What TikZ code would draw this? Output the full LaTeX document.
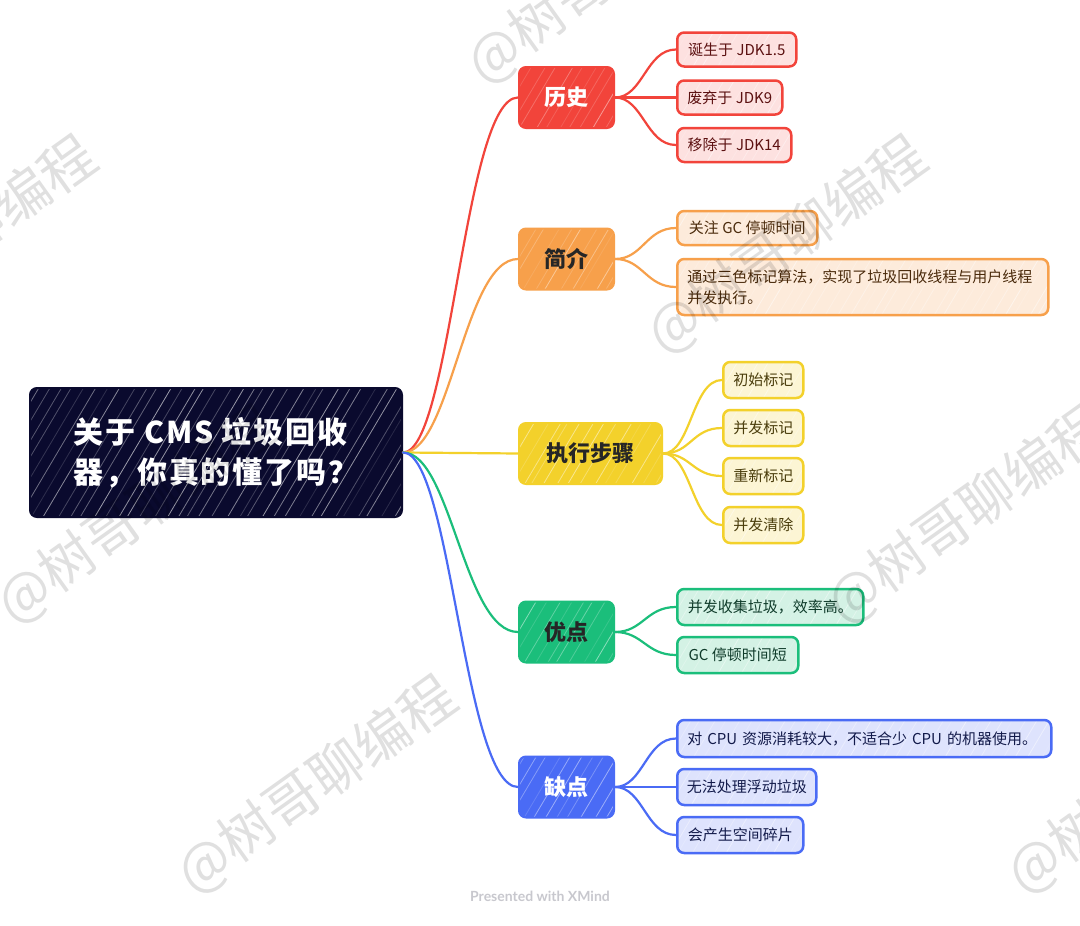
\documentclass[tikz,border=0pt]{standalone}
\usepackage{fontspec}
\setmainfont{Noto Sans CJK SC}
\newfontfamily\footfont{Lato}
\usetikzlibrary{calc}
\definecolor{cRoot}{HTML}{0A0A2E}
\definecolor{cRed}{HTML}{F2443B}
\definecolor{cRedL}{HTML}{FDE1E0}
\definecolor{cRedT}{HTML}{5C1111}
\definecolor{cOra}{HTML}{F7A04B}
\definecolor{cOraL}{HTML}{FDEBDB}
\definecolor{cOraT}{HTML}{4A2A0B}
\definecolor{cYel}{HTML}{F3D12B}
\definecolor{cYelL}{HTML}{FCF5D4}
\definecolor{cYelT}{HTML}{4A3D0C}
\definecolor{cGre}{HTML}{1BBE7B}
\definecolor{cGreL}{HTML}{D4F2E5}
\definecolor{cGreT}{HTML}{0F3B2A}
\definecolor{cBlu}{HTML}{4A6BF5}
\definecolor{cBluL}{HTML}{DEE3FD}
\definecolor{cBluT}{HTML}{121A4A}
\definecolor{cFoot}{HTML}{C8C8CE}
\pgfmathsetseed{7}
\tikzset{
  hatch/.style={path picture={\foreach \k in {-10,...,34}{\pgfmathsetmacro\op{#1*(0.2+0.8*rnd)}\pgfmathsetmacro\xs{\k*12+6*rnd}\draw[white,opacity=\op,line width=0.8pt] ([xshift=\xs pt]path picture bounding box.south west) -- ++(80pt,135pt);}}},
  rootbox/.style={fill=cRoot, draw=cRoot, line width=2pt, rounded corners=7pt, minimum width=372pt, minimum height=129pt, text=white, font=\fontsize{30}{40}\selectfont\bfseries\addfontfeature{LetterSpace=6}, align=left, hatch=0.6},
  branch/.style={rounded corners=7pt, minimum height=61pt, font=\fontsize{22}{26}\selectfont\bfseries, line width=2pt, hatch=0.5},
  leaf/.style={rounded corners=7pt, minimum height=34pt, line width=2.5pt, font=\fontsize{15}{21}\selectfont, anchor=west, align=left, hatch=0.5},
  link/.style={line width=2.2pt, line cap=round},
  wm/.style={rotate=35.5, text=black, text opacity=0.12, font=\fontsize{55}{55}\selectfont}
}
\begin{document}
\begin{tikzpicture}[x=1pt,y=-1pt]
\useasboundingbox (0,0) rectangle (1080,926);
\fill[white] (0,0) rectangle (1080,926);
% root
\node[rootbox] (root) at (216,452.5) {关于 CMS 垃圾回收\\器，你真的懂了吗？};
% branches
\node[branch, fill=cRed, draw=cRed, text=white, minimum width=95pt] (hist) at (566.5,97.5) {历史};
\node[branch, fill=cOra, draw=cOra, text=black!85, minimum width=95pt] (intro) at (566.5,259) {简介};
\node[branch, fill=cYel, draw=cYel, text=black!85, minimum width=143pt] (steps) at (590.5,453.5) {执行步骤};
\node[branch, fill=cGre, draw=cGre, text=black!85, minimum width=95pt] (pros) at (566.5,632) {优点};
\node[branch, fill=cBlu, draw=cBlu, text=white, minimum width=95pt] (cons) at (566.5,787) {缺点};
% leaves: history
\node[leaf, fill=cRedL, draw=cRed, text=cRedT, minimum width=119pt] (h1) at (676,49.5) {诞生于 JDK1.5};
\node[leaf, fill=cRedL, draw=cRed, text=cRedT, minimum width=105pt] (h2) at (676,97.5) {废弃于 JDK9};
\node[leaf, fill=cRedL, draw=cRed, text=cRedT, minimum width=114pt] (h3) at (676,145) {移除于 JDK14};
% leaves: intro
\node[leaf, fill=cOraL, draw=cOra, text=cOraT, minimum width=140pt] (i1) at (676,228) {关注 GC 停顿时间};
\node[leaf, fill=cOraL, draw=cOra, text=cOraT, text width=351pt, minimum height=56pt, inner xsep=10pt] (i2) at (676,287) {通过三色标记算法，实现了垃圾回收线程与用户线程\\并发执行。};
% leaves: steps
\node[leaf, fill=cYelL, draw=cYel, text=cYelT, minimum width=80pt, minimum height=36pt] (s1) at (722,380) {初始标记};
\node[leaf, fill=cYelL, draw=cYel, text=cYelT, minimum width=80pt, minimum height=36pt] (s2) at (722,428) {并发标记};
\node[leaf, fill=cYelL, draw=cYel, text=cYelT, minimum width=80pt, minimum height=36pt] (s3) at (722,476) {重新标记};
\node[leaf, fill=cYelL, draw=cYel, text=cYelT, minimum width=80pt, minimum height=36pt] (s4) at (722,525) {并发清除};
% leaves: pros
\node[leaf, fill=cGreL, draw=cGre, text=cGreT, minimum width=186pt, minimum height=36pt] (p1) at (676,607) {并发收集垃圾，效率高。};
\node[leaf, fill=cGreL, draw=cGre, text=cGreT, minimum width=121pt, minimum height=36pt] (p2) at (676,655) {GC 停顿时间短};
% leaves: cons
\node[leaf, fill=cBluL, draw=cBlu, text=cBluT, text width=354pt, inner xsep=10pt, minimum height=37pt] (c1) at (676,738.5) {对 CPU 资源消耗较大，不适合少 CPU 的机器使用。};
\node[leaf, fill=cBluL, draw=cBlu, text=cBluT, minimum width=139pt, minimum height=36pt] (c2) at (676,787) {无法处理浮动垃圾};
\node[leaf, fill=cBluL, draw=cBlu, text=cBluT, minimum width=126pt, minimum height=36pt] (c3) at (676,835) {会产生空间碎片};
% root links
\draw[link, cRed] (root.east) .. controls +(48,0) and +(-54,0) .. (hist.west);
\draw[link, cOra] (root.east) .. controls +(48,0) and +(-54,0) .. (intro.west);
\draw[link, cYel] (root.east) -- (steps.west);
\draw[link, cGre] (root.east) .. controls +(48,0) and +(-54,0) .. (pros.west);
\draw[link, cBlu] (root.east) .. controls +(48,0) and +(-54,0) .. (cons.west);
% leaf links
\foreach \l in {h1,h2,h3} \draw[link, cRed] (hist.east) .. controls +(28,0) and +(-30,0) .. (\l.west);
\foreach \l in {i1,i2} \draw[link, cOra] (intro.east) .. controls +(28,0) and +(-30,0) .. (\l.west);
\foreach \l in {s1,s2,s3,s4} \draw[link, cYel] (steps.east) .. controls +(28,0) and +(-30,0) .. (\l.west);
\foreach \l in {p1,p2} \draw[link, cGre] (pros.east) .. controls +(28,0) and +(-30,0) .. (\l.west);
\foreach \l in {c1,c2,c3} \draw[link, cBlu] (cons.east) .. controls +(28,0) and +(-30,0) .. (\l.west);
% footer
\node[text=cFoot, font=\footfont\bfseries\fontsize{14}{16}\selectfont] (foot) at (540,896) {Presented with XMind};
% watermarks
\begin{scope}
\clip (0,0) rectangle (1080,926);
\foreach \x/\y [count=\i] in {607/-25,-43/245,787/245,137/515,967/515,317/785,1147/785}
  \node[wm] (wm\i) at (\x,\y) {@树哥聊编程};
\end{scope}
\end{tikzpicture}
\end{document}
